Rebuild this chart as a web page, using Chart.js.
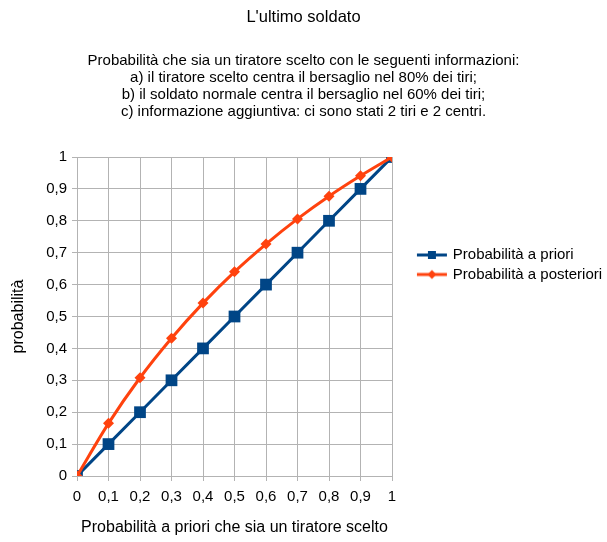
<!DOCTYPE html>
<html>
<head>
<meta charset="utf-8">
<script src="https://cdn.jsdelivr.net/npm/chart.js@4/dist/chart.umd.min.js"></script>
<style>
  body { margin: 0; background: #fff; }
  #wrap { width: 607px; height: 542px; }
</style>
</head>
<body>
<div id="wrap"><canvas id="chart" width="607" height="542"></canvas></div>
<script>
// data
const prioriX = [0, 0.1, 0.2, 0.3, 0.4, 0.5, 0.6, 0.7, 0.8, 0.9, 1];
const prioriY = [0, 0.1, 0.2, 0.3, 0.4, 0.5, 0.6, 0.7, 0.8, 0.9, 1];
const posterioriY = [0, 0.165, 0.308, 0.432, 0.542, 0.64, 0.727, 0.806, 0.877, 0.941, 1];
const tickLabels = ['0', '0,1', '0,2', '0,3', '0,4', '0,5', '0,6', '0,7', '0,8', '0,9', '1'];
const seriesNames = ['Probabilità a priori', 'Probabilità a posteriori'];

const BLUE = '#004586';
const ORANGE = '#ff420e';
const GRID = '#b3b3b3';

Chart.defaults.font.family = "'Liberation Sans', Arial, sans-serif";
Chart.defaults.color = '#000';

// small line + marker icon for the legend
function legendIcon(color, square) {
  const c = document.createElement('canvas');
  c.width = 64;
  c.height = 16;
  const g = c.getContext('2d');
  g.strokeStyle = color;
  g.lineWidth = 3;
  g.beginPath();
  g.moveTo(28, 8);
  g.lineTo(58, 8);
  g.stroke();
  g.fillStyle = color;
  if (square) {
    g.fillRect(39, 4, 8, 8);
  } else {
    g.beginPath();
    g.moveTo(43, 3.5);
    g.lineTo(47.5, 8);
    g.lineTo(43, 12.5);
    g.lineTo(38.5, 8);
    g.closePath();
    g.fill();
  }
  return c;
}
const icons = [legendIcon(BLUE, true), legendIcon(ORANGE, false)];

const toPoints = (xs, ys) => xs.map((x, i) => ({ x: x, y: ys[i] }));

function fmt(value) {
  const i = Math.round(value * 10);
  return tickLabels[i] !== undefined ? tickLabels[i] : '';
}

// the legend box is capped by the layout, stretch it to the right edge
const legendWidth = {
  id: 'legendWidth',
  afterLayout(chart) {
    const lg = chart.legend;
    lg.right = chart.width;
    lg.width = lg.right - lg.left;
  },
};

new Chart(document.getElementById('chart'), {
  type: 'line',
  data: {
    datasets: [
      {
        label: seriesNames[0],
        data: toPoints(prioriX, prioriY),
        borderColor: BLUE,
        backgroundColor: BLUE,
        borderWidth: 3,
        pointStyle: 'rect',
        pointRadius: 8.3,
        pointBorderWidth: 0,
        tension: 0,
        order: 1,
      },
      {
        label: seriesNames[1],
        data: toPoints(prioriX, posterioriY),
        borderColor: ORANGE,
        backgroundColor: ORANGE,
        borderWidth: 3,
        pointStyle: 'rectRot',
        pointRadius: 5.5,
        pointBorderWidth: 0,
        cubicInterpolationMode: 'monotone',
        order: 0,
      },
    ],
  },
  options: {
    responsive: false,
    animation: false,
    layout: { padding: 0 },
    plugins: {
      title: {
        display: true,
        text: "L'ultimo soldato",
        font: { size: 16.5, weight: 'normal' },
        padding: { top: 7.5, bottom: 0 },
      },
      subtitle: {
        display: true,
        text: [
          'Probabilità che sia un tiratore scelto con le seguenti informazioni:',
          'a) il tiratore scelto centra il bersaglio nel 80% dei tiri;',
          'b) il soldato normale centra il bersaglio nel 60% dei tiri;',
          'c) informazione aggiuntiva: ci sono stati 2 tiri e 2 centri.',
        ],
        color: '#000',
        font: { size: 15, lineHeight: 17 / 15 },
        padding: { top: 24.9, bottom: 36.8 },
      },
      legend: {
        position: 'right',
        align: 'start',
        fullSize: false,
        weight: -10,
        title: { display: true, text: '', padding: { top: 71.6, bottom: 0 } },
        labels: {
          usePointStyle: true,
          pointStyleWidth: 48.8,
          padding: 4.5,
          font: { size: 15 },
          generateLabels: (chart) => chart.data.datasets.map((ds, i) => ({
            text: ds.label,
            fillStyle: ds.borderColor,
            strokeStyle: ds.borderColor,
            lineWidth: 0,
            pointStyle: icons[i],
            hidden: false,
            datasetIndex: i,
          })),
        },
      },
      tooltip: { enabled: false },
    },
    scales: {
      x: {
        type: 'linear',
        min: 0,
        max: 1,
        ticks: { stepSize: 0.1, padding: 6.7, font: { size: 15 }, callback: fmt },
        grid: { color: GRID, tickLength: 5 },
        border: { color: GRID },
        title: {
          display: true,
          text: 'Probabilità a priori che sia un tiratore scelto',
          font: { size: 16 },
          padding: { top: 6, bottom: 4.4 },
        },
      },
      y: {
        type: 'linear',
        min: 0,
        max: 1,
        ticks: { stepSize: 0.1, padding: 5, font: { size: 15 }, callback: fmt },
        grid: { color: GRID, tickLength: 5 },
        border: { color: GRID },
        title: {
          display: true,
          text: 'probabilità',
          font: { size: 16 },
          padding: { top: 8.7, bottom: 0 },
        },
        afterFit: (scale) => { scale.width = 77; },
      },
      // empty axis that only keeps room free for the legend text
      spacer: {
        type: 'linear',
        position: 'right',
        min: 0,
        max: 1,
        ticks: { display: false },
        grid: { display: false },
        border: { display: false },
        afterFit: (scale) => { scale.width = 215 - scale.chart.legend.width; },
      },
    },
  },
  plugins: [legendWidth],
});
</script>
</body>
</html>
